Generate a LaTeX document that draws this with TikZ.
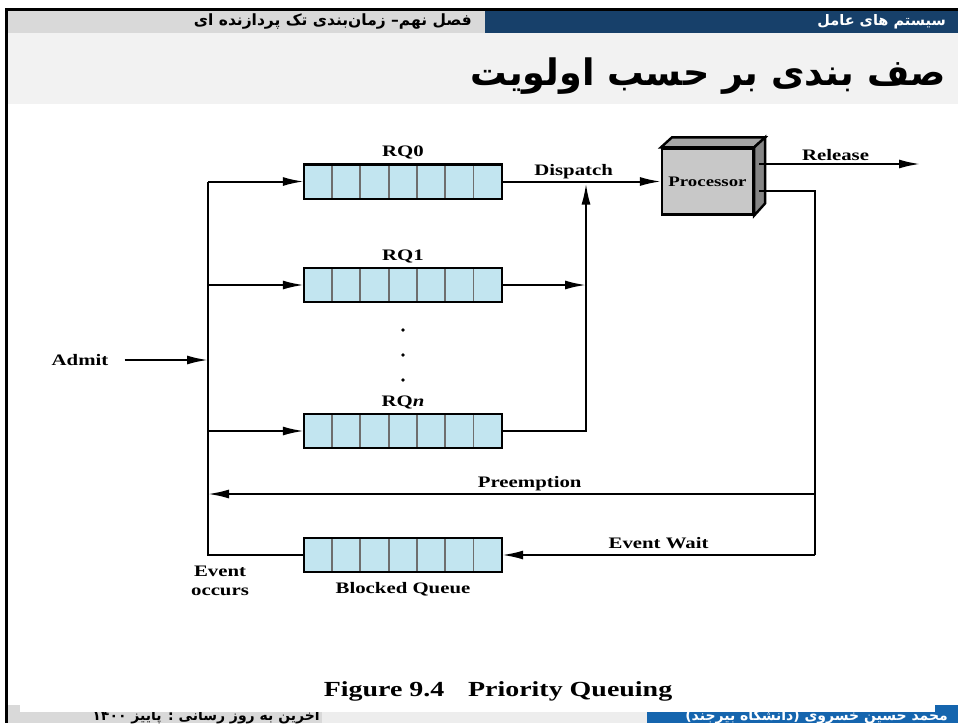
\documentclass[tikz,border=0pt]{standalone}
\usepackage{fontspec}
\usetikzlibrary{arrows.meta,positioning}
\TeXXeTstate=1
\newfontfamily\figfont[FakeStretch=1.3]{Liberation Serif}
\newfontfamily\fafont[Script=Arabic]{DejaVu Sans}

\definecolor{barblue}{HTML}{17406A}
\definecolor{bargray}{HTML}{D9D9D9}
\definecolor{titlegray}{HTML}{F2F2F2}
\definecolor{footblue}{HTML}{1565AE}
\definecolor{footlight}{HTML}{EDEDED}
\definecolor{qblue}{HTML}{C2E5F0}
\definecolor{cellgray}{HTML}{6E6E6E}
\definecolor{procfront}{HTML}{C8C8C8}
\definecolor{proctop}{HTML}{A6A6A6}
\definecolor{procside}{HTML}{858585}

\tikzset{
  wire/.style={line width=2pt},
  flow/.style={wire, -{Latex[length=21pt,width=9pt]}},
  lab/.style={font=\figfont\bfseries\fontsize{16}{19}\selectfont, inner sep=2pt},
  queuebox/.style={fill=qblue, minimum width=198pt, minimum height=34pt, inner sep=0pt},
  cellline/.style={draw=cellgray, line width=1.8pt},
  edge/.style={line width=2.4pt, line join=miter},
  procbox/.style={fill=procfront, draw, line width=2.2pt, minimum width=91pt, minimum height=66pt,
    font=\figfont\bfseries\fontsize{14.5}{17}\selectfont},
  fatext/.style={font=\fafont\bfseries\fontsize{#1}{#1}\selectfont, inner sep=0pt}
}

\newcommand\rqueue[2]{%
  \node[queuebox] (#1) at (403,#2) {};
  \foreach \k in {1,...,6}
    \draw[cellline] ([xshift=\k*28.29pt]#1.south west) -- ([xshift=\k*28.29pt]#1.north west);
  \draw[edge] (#1.south west) rectangle (#1.north east);
}

\begin{document}
\begin{tikzpicture}[x=1pt,y=-1pt]
\useasboundingbox (0,0) rectangle (958,723);

% slide frame
\fill[bargray] (8,11) rectangle (485,33);
\fill[barblue] (485,11) rectangle (958,33);
\fill[titlegray] (8,33) rectangle (958,104);
\node[fatext=14.5, anchor=east, text=white] (osname) at (946,22) {\fafont\beginR سیستم های عامل\endR};
\node[fatext=15.5, anchor=east] (chapter) at (472,22) {\fafont\beginR فصل نهم– زمان‌بندی تک پردازنده ای\endR};
\node[fatext=36.5, anchor=east] (title) at (946,76) {\fafont\beginR صف بندی بر حسب اولویت\endR};

\fill[bargray] (8,705) rectangle (322,723);
\fill[footlight] (322,705) rectangle (647,723);
\fill[footblue] (647,705) rectangle (958,723);
\node[fatext=14, anchor=east] (update) at (320,716) {\fafont\beginR آخرین به روز رسانی : پاییز ۱۴۰۰\endR};
\node[fatext=14, anchor=east, text=white] (author) at (948,716) {\fafont\beginR محمد حسین خسروی (دانشگاه بیرجند)\endR};
\fill[white] (20,690) rectangle (935,712);

% queues
\rqueue{rq0}{181.5}
\rqueue{rq1}{285}
\rqueue{rqn}{431}
\rqueue{bq}{555}
\node[lab, above=3pt of rq0] (rq0lab) {RQ0};
\node[lab, above=3pt of rq1] (rq1lab) {RQ1};
\node[lab, above=3pt of rqn] (rqnlab) {RQ{\itshape n}};
\node[lab, below=8pt of bq] (bqlab) {Blocked Queue};
\foreach \d/\y in {1/330,2/355,3/380}
  \fill (403,\y) circle (1.8) coordinate (dot\d);

% processor
\node[procbox] (proc) at (707.5,181.5) {Processor};
\draw[edge, fill=proctop] (proc.north west) -- ++(11,-10) -- ([shift={(11,-10)}]proc.north east) -- (proc.north east) -- cycle;
\draw[edge, fill=procside] (proc.north east) -- ++(11,-10) -- ++(0,66) -- (proc.south east) -- cycle;

% connectors
\coordinate (trunk) at (208,181.5);
\coordinate (merge) at (586,181.5);
\coordinate (relend) at (920,164);
\coordinate (preempt) at (815,494);
\coordinate (evwait) at (815,555);

\node[lab] (admit) at (80,360) {Admit};
\draw[flow] ([xshift=14pt]admit.east) -- (admit.east -| trunk);
\draw[wire] (bq.west) -| (trunk);
\draw[flow] (trunk) -- (rq0.west);
\draw[flow] (rq1.west -| trunk) -- (rq1.west);
\draw[flow] (rqn.west -| trunk) -- (rqn.west);
\node[lab, align=center] (evocc) at (220,581) {Event\\occurs};

\draw[flow] (rq0.east) -- node[lab, above, pos=0.45] (dispatch) {Dispatch} (proc.west);
\draw[flow] (rq1.east) -- (rq1.east -| merge);
\draw[flow] (rqn.east) -| ([yshift=-2pt]merge);

\draw[flow] ([xshift=5pt]proc.east |- relend) -- node[lab, above, xshift=-4pt] (release) {Release} (relend);
\draw[wire] ([xshift=5pt,yshift=-9.5pt]proc.east) -| (evwait);
\draw[flow] (preempt) -- node[lab, above, pos=0.47] (preemption) {Preemption} (preempt -| trunk);
\draw[flow] (evwait) -- node[lab, above=3pt] (eventwait) {Event Wait} (bq.east);

\node[font=\figfont\bfseries\fontsize{21.5}{26}\selectfont] (caption) at (498,691) {Figure 9.4\hspace{1.1em}Priority Queuing};

\draw[line width=3pt] (5,9) -- (958,9);
\draw[line width=2.5pt] (6.5,8) -- (6.5,723);
\end{tikzpicture}
\end{document}
